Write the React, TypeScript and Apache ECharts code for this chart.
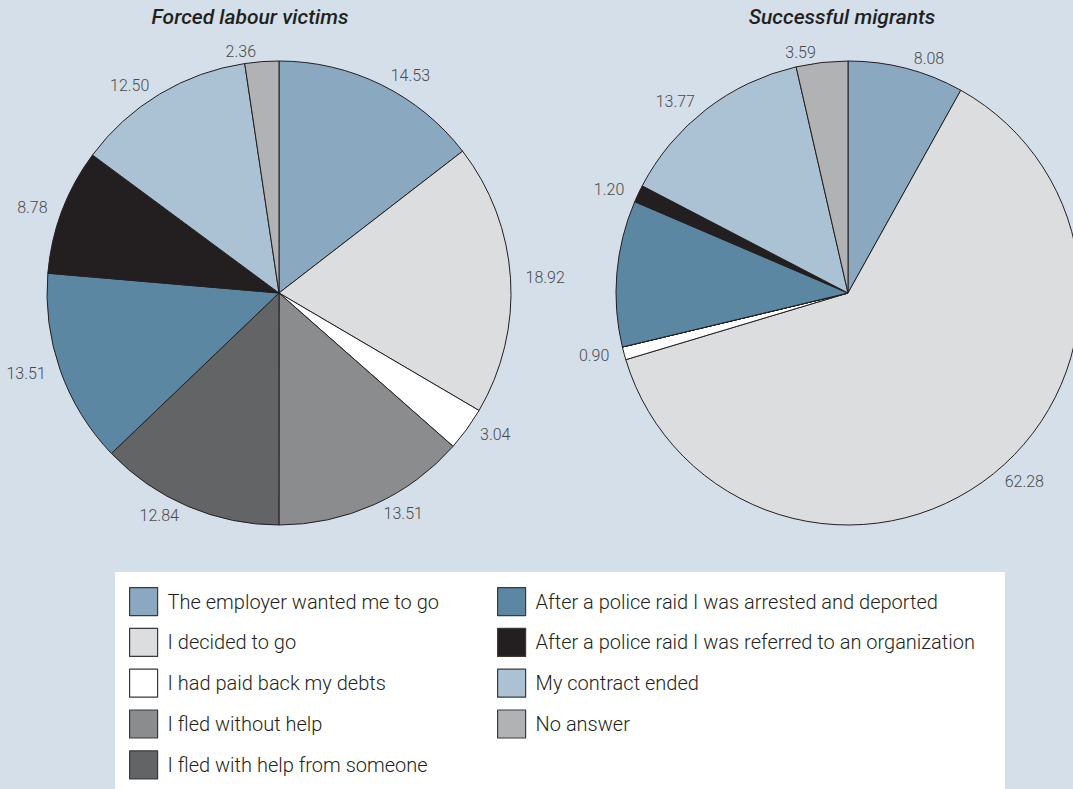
import React, { useEffect, useRef } from "react";
import * as echarts from "echarts";

const categories = [
  "The employer wanted me to go",
  "I decided to go",
  "I had paid back my debts",
  "I fled without help",
  "I fled with help from someone",
  "After a police raid I was arrested and deported",
  "After a police raid I was referred to an organization",
  "My contract ended",
  "No answer",
];
const forcedValues = [14.53, 18.92, 3.04, 13.51, 12.84, 13.51, 8.78, 12.5, 2.36];
const migrantValues = [8.08, 62.28, 0.9, 0, 0, 10.18, 1.2, 13.77, 3.59];
const sliceColors = [
  "#8aa9c1",
  "#dcdddf",
  "#ffffff",
  "#8b8c8e",
  "#636466",
  "#5b87a2",
  "#231f20",
  "#abc2d4",
  "#b1b2b4",
];
const titles = ["Forced labour victims", "Successful migrants"];

const FONT = "Roboto, 'Noto Sans', sans-serif";

export default function App() {
  const ref = useRef<HTMLDivElement>(null);
  useEffect(() => {
    if (!ref.current) return;
    const chart = echarts.init(ref.current, null, { renderer: "svg" });
    const makeData = (vals: number[]) =>
      categories.map((name, i) => ({
        name,
        value: vals[i],
        itemStyle: { color: sliceColors[i] },
      }));
    const pieBase = {
      type: "pie" as const,
      radius: 232,
      startAngle: 90,
      clockwise: true,
      avoidLabelOverlap: false,
      silent: true,
      itemStyle: { borderColor: "#231f20", borderWidth: 1 },
      label: {
        show: true,
        position: "outside",
        color: "#4a4a4c",
        fontFamily: FONT,
        fontWeight: 300,
        fontSize: 16,
        formatter: (p: any) => (p.value > 0 ? Number(p.value).toFixed(2) : ""),
      },
      labelLine: { show: false, length: 10, length2: 0 },
      emphasis: { disabled: true },
    };
    const legendBase = {
      orient: "vertical" as const,
      top: 587,
      padding: 0,
      itemWidth: 28,
      itemHeight: 28,
      itemGap: 11.6,
      icon: "rect",
      selectedMode: false,
      itemStyle: { borderColor: "#3a3a3a", borderWidth: 1.2 },
      textStyle: {
        fontFamily: FONT,
        fontWeight: 300,
        fontSize: 20,
        color: "#231f20",
        padding: [0, 0, 0, 5],
      },
    };
    chart.setOption({
      animation: false,
      backgroundColor: "#d4dfe9",
      graphic: [
        {
          type: "rect",
          shape: { x: 115, y: 572, width: 890, height: 230 },
          style: { fill: "#ffffff" },
          z: -1,
        },
        {
          type: "text",
          x: 250,
          y: 17,
          style: {
            text: titles[0],
            fill: "#231f20",
            font: `italic 500 21px ${FONT}`,
            textAlign: "center",
            textVerticalAlign: "middle",
          },
        },
        {
          type: "text",
          x: 842,
          y: 17,
          style: {
            text: titles[1],
            fill: "#231f20",
            font: `italic 500 21px ${FONT}`,
            textAlign: "center",
            textVerticalAlign: "middle",
          },
        },
      ],
      legend: [
        { ...legendBase, left: 129, data: categories.slice(0, 5) },
        { ...legendBase, left: 497, data: categories.slice(5) },
      ],
      series: [
        { ...pieBase, name: titles[0], center: [279, 293], data: makeData(forcedValues) },
        { ...pieBase, name: titles[1], center: [848, 293], data: makeData(migrantValues) },
      ],
    });
    return () => chart.dispose();
  }, []);
  return (
    <div
      ref={ref}
      style={{ position: "fixed", left: 0, top: 0, width: 1073, height: 789 }}
    />
  );
}
